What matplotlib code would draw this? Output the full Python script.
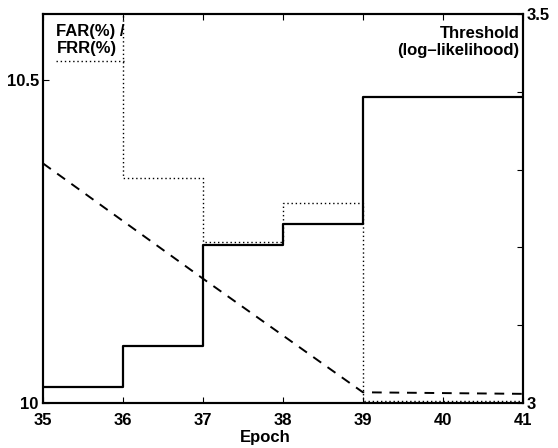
import matplotlib
matplotlib.use("Agg")
from matplotlib import pyplot as plt

plt.rcParams['font.family'] = ['Liberation Sans', 'DejaVu Sans']
plt.rcParams['font.weight'] = 'bold'
plt.rcParams['font.size'] = 12

# epochs and values (last value repeated for the step end)
epochs = [35, 36, 37, 38, 39, 40, 41]
far = [10.025, 10.088, 10.245, 10.277, 10.474, 10.474, 10.474]
frr = [10.80, 10.348, 10.249, 10.310, 10.003, 10.003, 10.003]
threshold = [3.308, 3.234, 3.160, 3.087, 3.014, 3.013, 3.012]

fig = plt.figure(figsize=(5.58, 4.48), dpi=100)
ax = fig.add_axes([0.077, 0.100, 0.860, 0.869])

ax.plot(epochs, far, color='black', lw=1.6, drawstyle='steps-post')
ax.plot(epochs, frr, color='black', lw=1.0, ls=(0, (1, 2)), drawstyle='steps-post')
ax.set_xlim(35, 41)
ax.set_ylim(10, 10.602)
ax.set_xticks(epochs)
ax.set_yticks([10, 10.5])
ax.set_yticklabels(['10', '10.5'])
ax.tick_params(axis='x', direction='in', length=4, top=True, pad=7)
ax.tick_params(axis='y', direction='in', length=4, right=False, pad=3)
ax.set_xlabel('Epoch', fontweight='bold')
ax.xaxis.set_label_coords(0.463, -0.068)

ax2 = ax.twinx()
ax2.plot(epochs, threshold, color='black', lw=1.4, ls=(0, (5, 4)))
ax2.set_ylim(3, 3.5)
ax2.set_yticks([3, 3.1, 3.2, 3.3, 3.4, 3.5])
ax2.set_yticklabels(['3', '', '', '', '', '3.5'])
ax2.tick_params(direction='in', length=4, pad=3)

for a in (ax, ax2):
    for s in a.spines.values():
        s.set_linewidth(1.5)

ax.text(0.028, 0.975, 'FAR(%) /\nFRR(%)', transform=ax.transAxes,
        ha='left', va='top', fontweight='bold', linespacing=1.2)
ax.plot([0.028, 0.17], [0.88, 0.88], transform=ax.transAxes,
        color='black', lw=1.0, ls=(0, (1, 2)))
ax.text(0.993, 0.97, 'Threshold\n(log\u2013likelihood)', transform=ax.transAxes,
        ha='right', va='top', fontweight='bold', linespacing=1.2)

fig.savefig('out.png', dpi=100)
